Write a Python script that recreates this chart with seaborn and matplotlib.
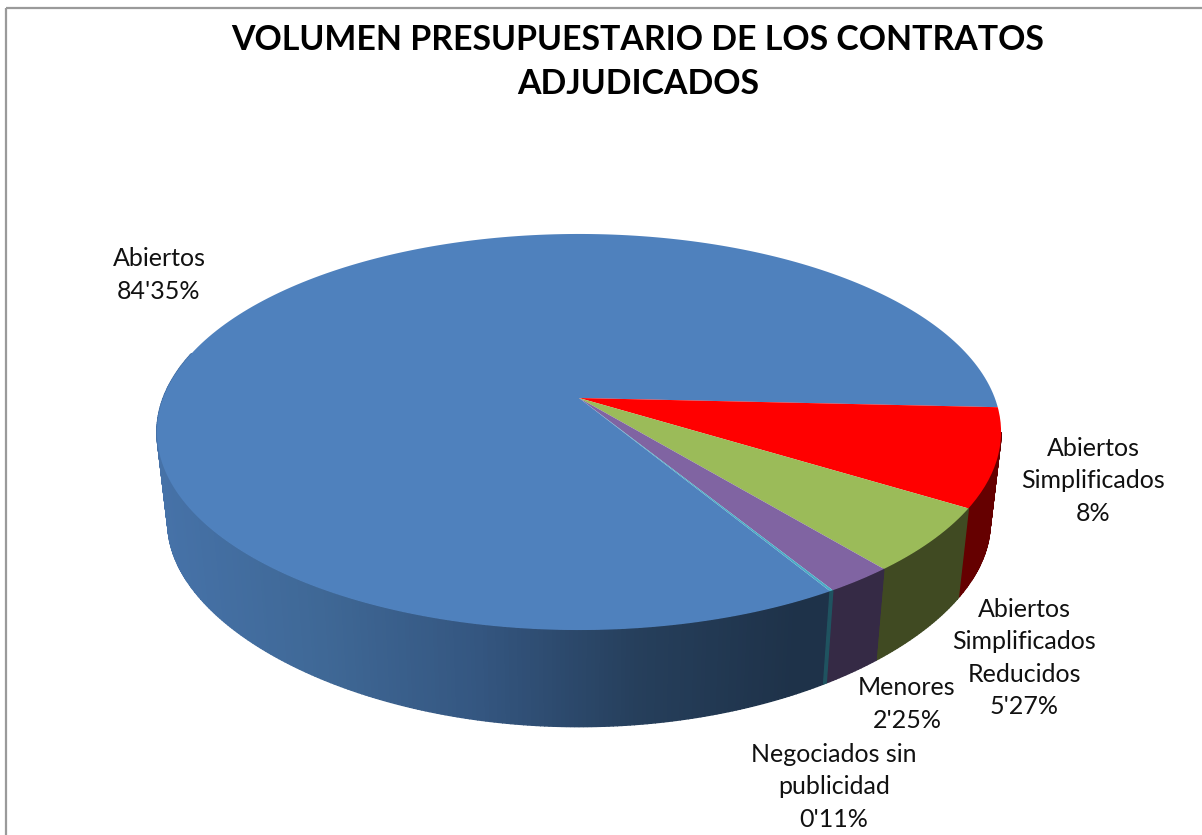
import numpy as np
import matplotlib
matplotlib.use("Agg")
import matplotlib.pyplot as plt
import seaborn as sns
from matplotlib.path import Path
from matplotlib.transforms import Affine2D, Transform

# chart data
title = "VOLUMEN PRESUPUESTARIO DE LOS CONTRATOS\nADJUDICADOS"
categories = ["Abiertos", "Abiertos\nSimplificados", "Abiertos\nSimplificados\nReducidos",
              "Menores", "Negociados sin\npublicidad"]
values = [84.35, 8, 5.27, 2.25, 0.11]
value_labels = ["84'35%", "8%", "5'27%", "2'25%", "0'11%"]

# styling / layout
top_colors = ["#4F81BD", "#FF0000", "#9BBB59", "#8064A2", "#4BACC6"]
wall_colors = [None, "#650000", "#404A22", "#352A45", "#1F5360"]
label_xy = [(159, 275), (1093, 481), (1024, 658), (907, 704), (834, 787)]

CX, CY = 579, 398
R, S, K = 415.8, 192.2, 0.1717


def top_xy(x, y):
    w = 1 + K * y
    return CX + R * x / w, CY - S * y / w


def rim_xy(x, y):
    # bottom edge of the disc, squeezed a little by the perspective
    w = 1 + K * y
    return CX + 0.974 * R * x / w, 492 - 176 * y / (1 + 0.25 * y)


class Tilt(Transform):
    input_dims = 2
    output_dims = 2
    is_separable = False
    has_inverse = False

    def transform_non_affine(self, xy):
        xy = np.asarray(xy)
        return np.column_stack(top_xy(xy[:, 0], xy[:, 1]))

    def transform_path_non_affine(self, path):
        # flatten the arcs, beziers do not survive a perspective map
        poly = path.transformed(Affine2D().scale(1000)).to_polygons(closed_only=False)[0] / 1000
        return Path(self.transform_non_affine(poly))


sns.set_style("white")
plt.rcParams['font.family'] = ['Lato', 'DejaVu Sans']

fig = plt.figure(figsize=(12.02, 8.35), dpi=100)
ax = fig.add_axes([0, 0, 1, 1])

wedges, _ = ax.pie(values, colors=top_colors, startangle=-59, counterclock=False)
ax.set_aspect('auto')
ax.set_xlim(0, 1202)
ax.set_ylim(835, 0)
ax.set_axis_off()

tilt = Tilt() + ax.transData
for w in wedges:
    w.set_transform(tilt)
    w.set_zorder(3)
    w.set_linewidth(0)

# side wall, only the front part of the disc shows
blue_shades = sns.blend_palette(["#4672A8", "#3F6896", "#345680", "#263F5C", "#1E3249"], n_colors=500)
for w, wall in zip(wedges, wall_colors):
    lo, hi = w.theta1, w.theta2
    # bring the angles to the -194..-10 range
    while hi <= -360:
        lo, hi = lo + 360, hi + 360
    lo, hi = max(lo, -194), min(hi, -10)
    if lo >= hi:
        continue
    th = np.radians(np.arange(lo, hi, 0.5).tolist() + [hi])
    for a, b in zip(th[:-1], th[1:]):
        xa, ya = np.cos(a), np.sin(a)
        xb, yb = np.cos(b), np.sin(b)
        tx0, ty0 = top_xy(xa, ya)
        tx1, ty1 = top_xy(xb, yb)
        bx0, by0 = rim_xy(xa, ya)
        bx1, by1 = rim_xy(xb, yb)
        if wall is None:
            i = int(np.clip((bx0 - 168) / (790 - 168), 0, 1) * 499)
            c = blue_shades[i]
        else:
            c = wall
        ax.fill([tx0, tx1, bx1, bx0], [ty0, ty1, by1, by0], color=c, lw=1.0, zorder=2)

# chart frame, only top and left show in the crop
ax.plot([5.5, 1202], [8, 8], color="#9A9A9A", lw=1.6, zorder=1, solid_capstyle='butt')
ax.plot([5.5, 5.5], [8, 835], color="#9A9A9A", lw=1.6, zorder=1, solid_capstyle='butt')

ax.text(638, 62, title, ha='center', va='center', fontsize=24.4, fontweight='bold',
        color='black', linespacing=1.49)
for cat, val, (lx, ly) in zip(categories, value_labels, label_xy):
    ax.text(lx, ly, cat + "\n" + val, ha='center', va='center', fontsize=18,
            color='#111111', linespacing=1.5, zorder=4)

fig.savefig("out.png", dpi=100)
